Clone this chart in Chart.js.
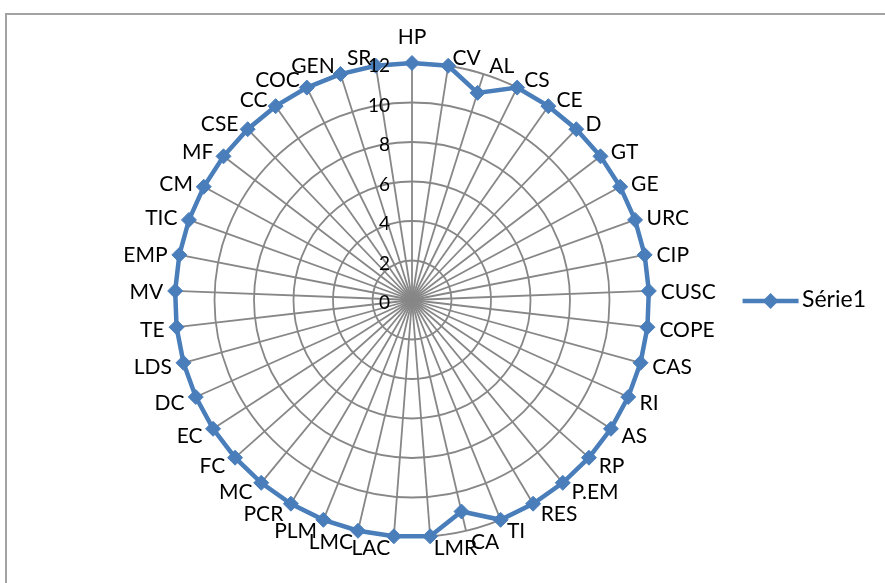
<!DOCTYPE html>
<html>
<head>
<meta charset="utf-8">
<script src="https://cdn.jsdelivr.net/npm/chart.js@4.4.1/dist/chart.umd.min.js"></script>
<style>
  body { margin: 0; background: #fff; }
  canvas { display: block; }
</style>
</head>
<body>
<canvas id="radar" width="885" height="583"></canvas>
<script>
const categories = ['HP', 'CV', 'AL', 'CS', 'CE', 'D', 'GT', 'GE', 'URC', 'CIP', 'CUSC',
  'COPE', 'CAS', 'RI', 'AS', 'RP', 'P.EM', 'RES', 'TI', 'CA', 'LMR', 'LAC', 'LMC', 'PLM',
  'PCR', 'MC', 'FC', 'EC', 'DC', 'LDS', 'TE', 'MV', 'EMP', 'TIC', 'CM', 'MF', 'CSE', 'CC',
  'COC', 'GEN', 'SR'];
const serie1 = [12, 12, 11, 12, 12, 12, 12, 12, 12, 12, 12,
  12, 12, 12, 12, 12, 12, 12, 12, 11, 12, 12, 12, 12,
  12, 12, 12, 12, 12, 12, 12, 12, 12, 12, 12, 12, 12, 12,
  12, 12, 12];
const axisMin = 0;
const axisMax = 12;
const axisStep = 2;

const lineBlue = '#4A7EBB';
const gridGrey = '#878787';
const labelFont = '21px Lato';

// outer frame, only the left and top edges show
const frame = {
  id: 'frame',
  beforeDraw(chart) {
    const ctx = chart.ctx;
    ctx.save();
    ctx.strokeStyle = '#a3a3a3';
    ctx.lineWidth = 2;
    ctx.beginPath();
    ctx.moveTo(6, chart.height);
    ctx.lineTo(6, 14);
    ctx.lineTo(chart.width, 14);
    ctx.stroke();
    ctx.restore();
  }
};

// category names: beside the outer ring point, leaning up at the top and down at the bottom
const categoryLabels = {
  id: 'categoryLabels',
  afterDatasetsDraw(chart) {
    const r = chart.scales.r;
    const ctx = chart.ctx;
    ctx.save();
    ctx.font = labelFont;
    ctx.fillStyle = '#000';
    ctx.textBaseline = 'middle';
    categories.forEach((name, i) => {
      const p = r.getPointPosition(i, r.drawingArea);
      const a = r.getIndexAngle(i);
      const s = Math.sin(a);
      const c = Math.cos(a);
      if (Math.abs(s) < 0.02) {
        ctx.textAlign = 'center';
        ctx.fillText(name, p.x, c > 0 ? p.y - 26 : p.y + 20);
      } else {
        ctx.textAlign = s > 0 ? 'left' : 'right';
        const gap = 3 + 9 * Math.abs(s);
        ctx.fillText(name, p.x + Math.sign(s) * gap, p.y - 10 * c + 2);
      }
    });
    ctx.restore();
  }
};

// value labels sit left of the vertical spoke, 0 included
const tickLabels = {
  id: 'tickLabels',
  afterDatasetsDraw(chart) {
    const r = chart.scales.r;
    const ctx = chart.ctx;
    ctx.save();
    ctx.font = '19px Lato';
    ctx.fillStyle = '#000';
    ctx.textAlign = 'right';
    ctx.textBaseline = 'middle';
    r.ticks.forEach(t => {
      const d = r.getDistanceFromCenterForValue(t.value);
      ctx.fillText(t.label, r.xCenter - 22, r.yCenter - d + 3);
    });
    ctx.restore();
  }
};

// legend symbol: line with a diamond, level with the text
const legendMarker = {
  id: 'legendMarker',
  afterDraw(chart) {
    const lg = chart.legend;
    if (!lg || !lg.legendHitBoxes || !lg.legendHitBoxes.length) return;
    const hb = lg.legendHitBoxes[0];
    const y = hb.top + hb.height / 2 + 1;
    const x0 = hb.left;
    const x1 = hb.left + 56;
    const xm = (x0 + x1) / 2;
    const s = 8;
    const ctx = chart.ctx;
    ctx.save();
    ctx.strokeStyle = lineBlue;
    ctx.lineWidth = 4.5;
    ctx.beginPath();
    ctx.moveTo(x0, y);
    ctx.lineTo(x1, y);
    ctx.stroke();
    ctx.fillStyle = lineBlue;
    ctx.beginPath();
    ctx.moveTo(xm - s, y);
    ctx.lineTo(xm, y - s);
    ctx.lineTo(xm + s, y);
    ctx.lineTo(xm, y + s);
    ctx.closePath();
    ctx.fill();
    ctx.restore();
  }
};

new Chart(document.getElementById('radar'), {
  type: 'radar',
  data: {
    labels: categories,
    datasets: [{
      label: 'Série1',
      data: serie1,
      borderColor: lineBlue,
      backgroundColor: 'transparent',
      borderWidth: 4.5,
      fill: false,
      tension: 0,
      pointStyle: 'rectRot',
      pointRadius: 7.5,
      pointBorderWidth: 1,
      pointBackgroundColor: lineBlue,
      pointBorderColor: lineBlue
    }]
  },
  options: {
    responsive: false,
    animation: false,
    layout: { padding: { left: 92, right: 9, top: 63, bottom: 46 } },
    scales: {
      r: {
        min: axisMin,
        max: axisMax,
        ticks: { display: false, stepSize: axisStep },
        grid: { color: gridGrey, lineWidth: 1.8, circular: true },
        angleLines: { color: gridGrey, lineWidth: 1.8 },
        pointLabels: { display: false }
      }
    },
    plugins: {
      tooltip: { enabled: false },
      legend: {
        position: 'right',
        labels: {
          color: '#000',
          font: { family: 'Lato', size: 23 },
          boxWidth: 48,
          boxHeight: 5,
          padding: 10,
          generateLabels(chart) {
            const items = Chart.defaults.plugins.legend.labels.generateLabels(chart);
            items.forEach(it => {
              it.fillStyle = 'transparent';
              it.strokeStyle = 'transparent';
              it.lineWidth = 0;
            });
            return items;
          }
        }
      }
    }
  },
  plugins: [frame, categoryLabels, tickLabels, legendMarker]
});
</script>
</body>
</html>
